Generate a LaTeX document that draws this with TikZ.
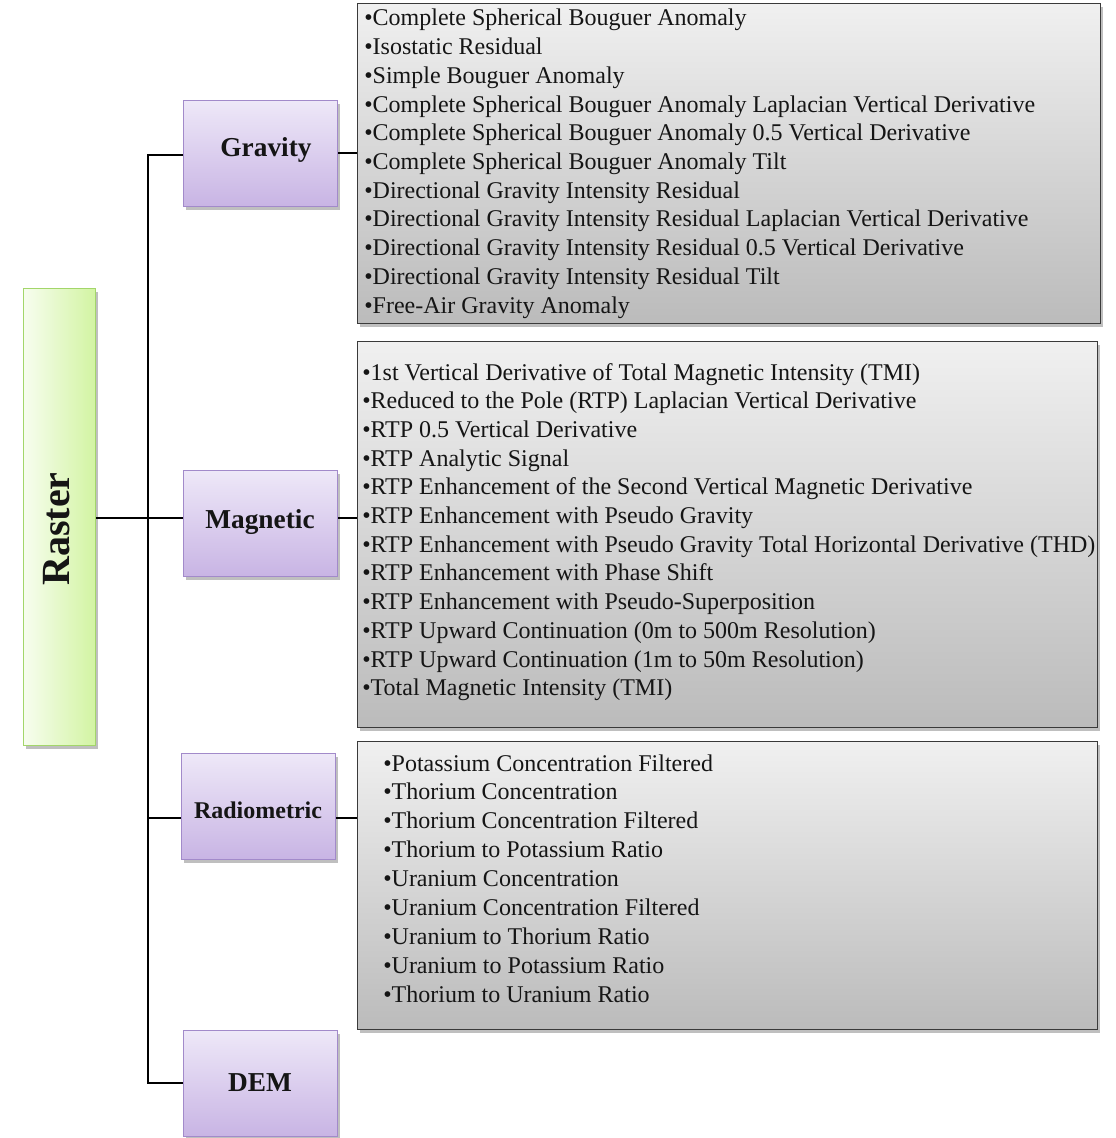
\documentclass[tikz,border=0pt]{standalone}
\usepackage{fontspec}
\setmainfont{Liberation Serif}
\usetikzlibrary{shadows}

\definecolor{catTop}{HTML}{EEE8F8}
\definecolor{catBot}{HTML}{C8B4E4}
\definecolor{catEdge}{HTML}{A28ACA}
\definecolor{rootLeft}{HTML}{F7FDEF}
\definecolor{rootRight}{HTML}{D2F4A2}
\definecolor{rootEdge}{HTML}{A3D66A}
\definecolor{listTop}{HTML}{F0F0F0}
\definecolor{listBot}{HTML}{BBBBBB}
\definecolor{listEdge}{HTML}{3A3A3A}
\definecolor{ink}{HTML}{151515}

\newdimen\pxu
\pxu=0.75pt

\tikzset{
  softshadow/.style={drop shadow={shadow xshift=2pt, shadow yshift=-2.5pt, opacity=0.25, fill=black}},
  rootbox/.style={draw=rootEdge, line width=0.9pt, left color=rootLeft, right color=rootRight,
    anchor=north west, inner sep=0pt, minimum width=72\pxu, minimum height=457\pxu, softshadow},
  catbox/.style={draw=catEdge, line width=0.9pt, top color=catTop, bottom color=catBot,
    anchor=north west, inner sep=0pt, minimum width=154\pxu, minimum height=106\pxu, softshadow},
  listbox/.style={draw=listEdge, line width=1.1pt, top color=listTop, bottom color=listBot,
    anchor=north west, inner sep=0pt, softshadow},
  catlabel/.style={font=\fontsize{20.5}{24}\selectfont\bfseries, text=ink, inner sep=0pt},
  item/.style={font=\fontsize{18}{21.6}\selectfont, text=ink, inner sep=0pt, anchor=base west},
  link/.style={draw=black, line width=1.9pt},
}

\begin{document}
\begin{tikzpicture}[x=0.75pt, y=-0.75pt]
\useasboundingbox (0,0) rectangle (1115,1138);

% root
\node[rootbox] (raster) at (23,288) {};
\node[rotate=90, font=\fontsize{30}{34}\selectfont\bfseries, text=ink, inner sep=0pt] (rasterlabel) at (57,529) {Raster};

% categories
\node[catbox] (gravity) at (183,100) {};
\node[catlabel] (gravitylabel) at (266,150) {Gravity};
\node[catbox] (magnetic) at (183,470) {};
\node[catlabel] (magneticlabel) at (260,522) {Magnetic};
\node[catbox] (radiometric) at (181,753) {};
\node[catlabel, font=\fontsize{18}{22}\selectfont\bfseries] (radiometriclabel) at (258,810) {Radiometric};
\node[catbox] (dem) at (183,1030) {};
\node[catlabel] (demlabel) at (260,1083) {DEM};

% item lists
\node[listbox, minimum width=743\pxu, minimum height=320\pxu] (gravlist) at (357,3) {};
\node[listbox, minimum width=740\pxu, minimum height=386\pxu] (maglist) at (357,341) {};
\node[listbox, minimum width=740\pxu, minimum height=288\pxu] (radlist) at (357,741) {};

\foreach \t [count=\i from 0] in {
  Complete Spherical Bouguer Anomaly,
  Isostatic Residual,
  Simple Bouguer Anomaly,
  Complete Spherical Bouguer Anomaly Laplacian Vertical Derivative,
  Complete Spherical Bouguer Anomaly 0.5 Vertical Derivative,
  Complete Spherical Bouguer Anomaly Tilt,
  Directional Gravity Intensity Residual,
  Directional Gravity Intensity Residual Laplacian Vertical Derivative,
  Directional Gravity Intensity Residual 0.5 Vertical Derivative,
  Directional Gravity Intensity Residual Tilt,
  Free-Air Gravity Anomaly}
  \node[item] (g\i) at (364,{26+28.7*\i}) {•\t};

\foreach \t [count=\i from 0] in {
  1st Vertical Derivative of Total Magnetic Intensity (TMI),
  Reduced to the Pole (RTP) Laplacian Vertical Derivative,
  RTP 0.5 Vertical Derivative,
  RTP Analytic Signal,
  RTP Enhancement of the Second Vertical Magnetic Derivative,
  RTP Enhancement with Pseudo Gravity,
  RTP Enhancement with Pseudo Gravity Total Horizontal Derivative (THD),
  RTP Enhancement with Phase Shift,
  RTP Enhancement with Pseudo-Superposition,
  RTP Upward Continuation (0m to 500m Resolution),
  RTP Upward Continuation (1m to 50m Resolution),
  Total Magnetic Intensity (TMI)}
  \node[item] (m\i) at (362,{380+28.7*\i}) {•\t};

\foreach \t [count=\i from 0] in {
  Potassium Concentration Filtered,
  Thorium Concentration,
  Thorium Concentration Filtered,
  Thorium to Potassium Ratio,
  Uranium Concentration,
  Uranium Concentration Filtered,
  Uranium to Thorium Ratio,
  Uranium to Potassium Ratio,
  Thorium to Uranium Ratio}
  \node[item] (r\i) at (383,{771+28.9*\i}) {•\t};

% tree connectors
\coordinate (tGrav) at (148,155);
\coordinate (tMag) at (148,518);
\coordinate (tRad) at (148,818);
\coordinate (tDem) at (148,1083);

\draw[link] (raster.east |- tMag) -- (magnetic.west |- tMag);
\draw[link] (gravity.west |- tGrav) -- (tGrav) -- (tDem) -- (dem.west |- tDem);
\draw[link] (tRad) -- (radiometric.west |- tRad);

% category to list connectors
\draw[link] (gravity.east |- 0,153) -- (gravlist.west |- 0,153);
\draw[link] (magnetic.east |- tMag) -- (maglist.west |- tMag);
\draw[link] (radiometric.east |- tRad) -- (radlist.west |- tRad);
\end{tikzpicture}
\end{document}
